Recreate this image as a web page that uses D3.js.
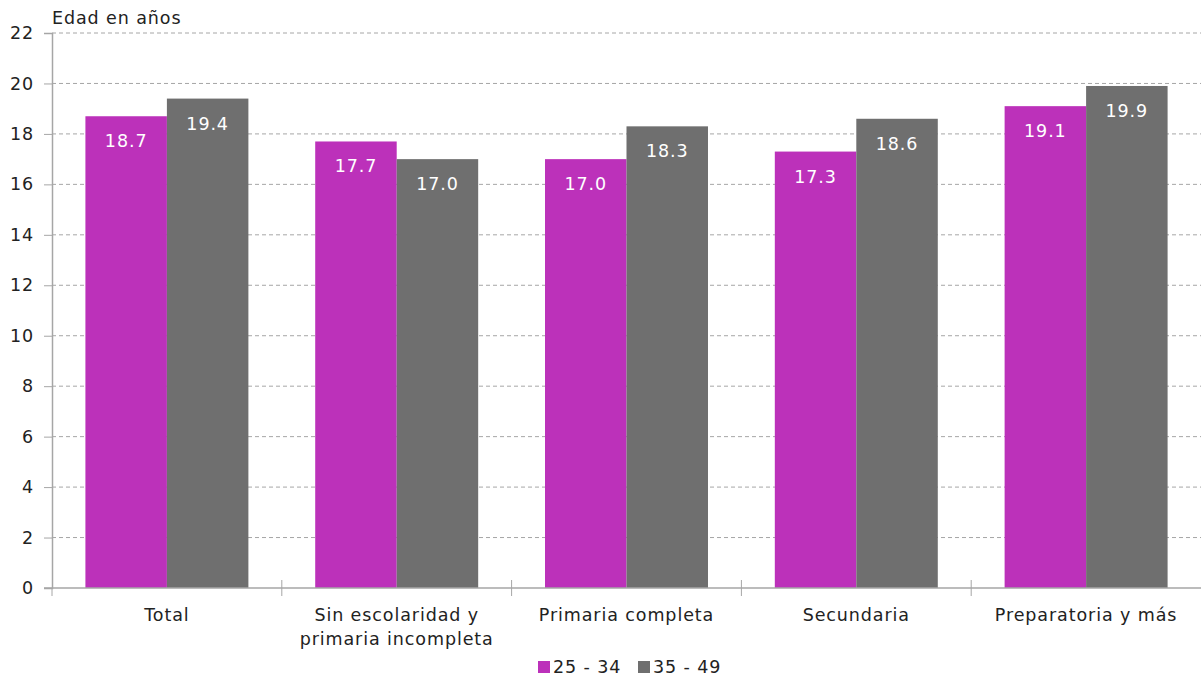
<!DOCTYPE html>
<html lang="es">
<head>
  <meta charset="UTF-8">
  <title>Edad en años</title>
  <script src="https://d3js.org/d3.v7.min.js"></script>
  <style>
    body { margin: 0; background: #fff; font-family: "DejaVu Sans", sans-serif; }
    svg text { letter-spacing: 0.9px; }
    .grid line { stroke: #a6a6a6; stroke-dasharray: 4 3; }
  </style>
</head>
<body>
  <svg id="chart" width="1201" height="681"></svg>
  <script>
    const categories = [["Total"], ["Sin escolaridad y", "primaria incompleta"], ["Primaria completa"], ["Secundaria"], ["Preparatoria y más"]];
    const series = ["25 - 34", "35 - 49"];
    const values2534 = [18.7, 17.7, 17.0, 17.3, 19.1];
    const values3549 = [19.4, 17.0, 18.3, 18.6, 19.9];
    const yTicks = [0, 2, 4, 6, 8, 10, 12, 14, 16, 18, 20, 22];
    const colors = ["#bc31ba", "#6f6f6f"];

    const svg = d3.select("#chart");
    const mLeft = 52, mRight = 1201, mTop = 33, mBottom = 588;
    const fs = "17.5px";

    const x = d3.scaleBand().domain(d3.range(categories.length)).range([mLeft, mRight]).paddingInner(0).paddingOuter(0);
    const xs = d3.scaleBand().domain(series).range([0, x.bandwidth()]).paddingInner(0).paddingOuter(0.41);
    const y = d3.scaleLinear().domain([0, 22]).range([mBottom, mTop]);

    // grid
    svg.append("g").attr("class", "grid")
      .selectAll("line").data(yTicks.filter(d => d > 0)).enter().append("line")
      .attr("x1", mLeft).attr("x2", mRight)
      .attr("y1", d => y(d)).attr("y2", d => y(d));

    // bars
    const data = categories.map((c, i) => [values2534[i], values3549[i]]);
    const groups = svg.append("g").selectAll("g").data(data).enter().append("g")
      .attr("transform", (d, i) => `translate(${x(i)},0)`);
    groups.selectAll("rect").data(d => d).enter().append("rect")
      .attr("x", (d, j) => xs(series[j]))
      .attr("width", xs.bandwidth())
      .attr("y", d => y(d))
      .attr("height", d => y(0) - y(d))
      .attr("fill", (d, j) => colors[j]);
    groups.selectAll("text").data(d => d).enter().append("text")
      .attr("x", (d, j) => xs(series[j]) + xs.bandwidth() / 2)
      .attr("y", d => y(d) + 31)
      .attr("text-anchor", "middle")
      .attr("fill", "#fff")
      .style("font-size", fs)
      .text(d => d.toFixed(1));

    // y axis
    const yAxis = svg.append("g").attr("transform", `translate(${mLeft},0)`)
      .call(d3.axisLeft(y).tickValues(yTicks).tickSize(8).tickPadding(10).tickFormat(d3.format("d")));
    yAxis.select(".domain").attr("stroke", "#a6a6a6").attr("stroke-width", 1.5);
    yAxis.selectAll(".tick line").attr("stroke", "#a6a6a6");
    yAxis.selectAll(".tick text").attr("fill", "#222").style("font-size", fs).style("font-family", "DejaVu Sans");

    // x axis
    svg.append("line").attr("x1", mLeft - 8).attr("x2", mRight).attr("y1", mBottom).attr("y2", mBottom)
      .attr("stroke", "#a6a6a6").attr("stroke-width", 1.5);
    svg.append("g").selectAll("line").data(d3.range(categories.length)).enter().append("line")
      .attr("x1", i => x(i)).attr("x2", i => x(i))
      .attr("y1", i => i === 0 ? mBottom : mBottom - 8).attr("y2", mBottom + 8)
      .attr("stroke", "#a6a6a6");

    const labels = svg.append("g").selectAll("text").data(categories).enter().append("text")
      .attr("x", (d, i) => x(i) + x.bandwidth() / 2)
      .attr("y", 621)
      .attr("text-anchor", "middle")
      .attr("fill", "#222")
      .style("font-size", fs);
    labels.selectAll("tspan").data(d => d).enter().append("tspan")
      .attr("x", function () { return this.parentNode.getAttribute("x"); })
      .attr("dy", (d, k) => k === 0 ? 0 : 24)
      .text(d => d);

    // title
    svg.append("text").attr("x", 52).attr("y", 24).attr("fill", "#222")
      .style("font-size", fs).text("Edad en años");

    // legend
    const legendX = [538, 638];
    const legend = svg.append("g").selectAll("g").data(series).enter().append("g")
      .attr("transform", (d, i) => `translate(${legendX[i]},661)`);
    legend.append("rect").attr("width", 12).attr("height", 12).attr("fill", (d, i) => colors[i]);
    legend.append("text").attr("x", 15).attr("y", 12).attr("fill", "#222")
      .style("font-size", fs).text(d => d);
  </script>
</body>
</html>
